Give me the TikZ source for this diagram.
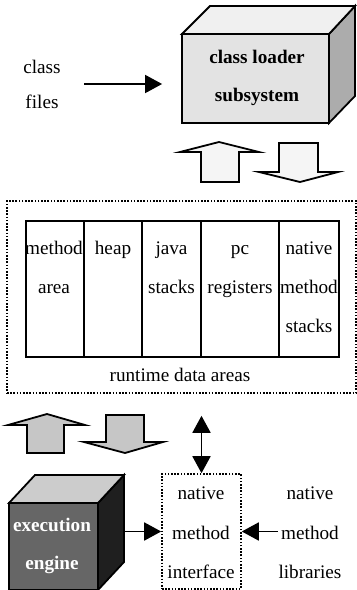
\documentclass[tikz,border=0pt]{standalone}
\usepackage{fontspec}
\setmainfont{Liberation Serif}
\usetikzlibrary{arrows.meta}
\tikzset{>/.tip={Triangle[length=8.5pt,width=9pt]}}

\begin{document}
\begin{tikzpicture}[x=0.5pt,y=-0.5pt,line width=0.9pt,
  txt/.style={font=\fontsize{9.6}{19.5}\selectfont,align=center,inner sep=0pt,anchor=base},
  dots/.style={dash pattern=on 0.8pt off 0.8pt,line width=0.8pt}]
\useasboundingbox (0,0) rectangle (357,590);

% class loader subsystem
\filldraw[fill=gray!65] (329,34) -- (355,6) -- (355,96) -- (329,123) -- cycle;
\filldraw[fill=gray!12] (182,34) -- (210,6) -- (355,6) -- (329,34) -- cycle;
\node[draw,fill=gray!22,minimum width=73.5pt,minimum height=44.5pt] (loader) at (255.5,78.5) {};
\node[txt,font=\bfseries\fontsize{9.6}{19}\selectfont] (loadertxt) at (257,101.5) {class loader\\subsystem};
\node[txt,font=\fontsize{9.6}{17.5}\selectfont] (files) at (42,108.5) {class\\files};
\coordinate (cf) at (84,84);
\draw[->,shorten >=9.5pt] (cf) -- (cf -| loader.west);

% hollow arrows
\filldraw[fill=gray!8] (201,182) -- (201,152) -- (180,152) -- (219,142) -- (259,152) -- (239,152) -- (239,182) -- cycle;
\filldraw[fill=gray!8] (279,143) -- (318,143) -- (318,172) -- (338,172) -- (300,182) -- (259,172) -- (279,172) -- cycle;

% runtime data areas
\node[draw,dots,minimum width=174.5pt,minimum height=96pt,inner sep=0pt] (rda) at (181.5,297) {};
\draw (26,221) rectangle (339,357);
\foreach \x in {84,142,201,279}
{
  \draw (\x,221) -- (\x,357);
}
\node[txt] (marea) at (54,293.5) {method\\area};
\node[txt] (heap) at (113,254.5) {heap};
\node[txt] (jstacks) at (171.5,293.5) {java\\stacks};
\node[txt] (pcreg) at (240,293.5) {pc\\registers};
\node[txt] (nmstacks) at (309,332.5) {native\\method\\stacks};
\node[txt] (rdatxt) at (180,381.5) {runtime data areas};

% filled arrows
\filldraw[fill=gray!45] (27,453) -- (27,425) -- (8,425) -- (47,414) -- (85,425) -- (64,425) -- (64,453) -- cycle;
\filldraw[fill=gray!45] (106,415) -- (144,415) -- (144,442) -- (163,442) -- (125,453) -- (84,442) -- (106,442) -- cycle;

% execution engine
\filldraw[fill=black!88] (98,503) -- (124,475) -- (124,562) -- (98,590) -- cycle;
\filldraw[fill=gray!40] (9,503) -- (35,475) -- (124,475) -- (98,503) -- cycle;
\node[draw,fill=black!60,minimum width=44.5pt,minimum height=43.5pt] (engine) at (53.5,546.5) {};
\node[txt,font=\bfseries\fontsize{9.6}{19}\selectfont,text=white] (enginetxt) at (52,569.5) {execution\\engine};

% native method interface
\node[draw,dots,minimum width=39.5pt,minimum height=57.5pt,inner sep=0pt] (nmi) at (201.5,531.5) {};
\node[txt,font=\fontsize{9.6}{19.75}\selectfont] (nmitxt) at (201,578.5) {native\\method\\interface};
\node[txt,font=\fontsize{9.6}{19.75}\selectfont] (nmlib) at (310,578.5) {native\\method\\libraries};
\draw[<->,shorten >=11pt] (nmi.north) -- (nmi.north |- rda.south);
\draw[->,shorten <=13pt] (engine.east |- nmi.west) -- (nmi.west);
\draw[->] (nmlib.west |- nmi.east) -- (nmi.east);
\end{tikzpicture}
\end{document}
